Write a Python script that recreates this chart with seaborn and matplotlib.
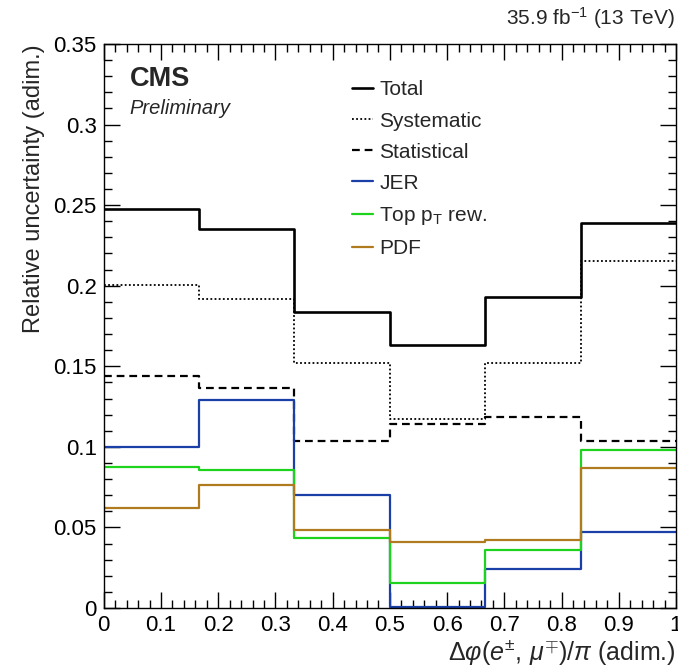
import numpy as np
import pandas as pd
import matplotlib
matplotlib.use("Agg")
import matplotlib.pyplot as plt
from matplotlib.ticker import MultipleLocator
from matplotlib.lines import Line2D
import seaborn as sns

# ---- data ----
bin_edges = [0.0, 1/6, 2/6, 3/6, 4/6, 5/6, 1.0]
total = [0.2475, 0.2350, 0.1840, 0.1635, 0.1930, 0.2390]
systematic = [0.2005, 0.1915, 0.1520, 0.1175, 0.1520, 0.2155]
statistical = [0.1440, 0.1365, 0.1035, 0.1140, 0.1185, 0.1035]
jer = [0.0997, 0.1292, 0.0700, 0.0008, 0.0240, 0.0475]
top_pt = [0.0875, 0.0857, 0.0433, 0.0153, 0.0358, 0.0980]
pdf = [0.0620, 0.0762, 0.0483, 0.0408, 0.0425, 0.0866]
labels = ["Total", "Systematic", "Statistical", "JER", r"Top p$_\mathregular{T}$ rew.", "PDF"]

sns.set_theme(style="ticks")
plt.rcParams["font.family"] = ["Liberation Sans", "DejaVu Sans"]
plt.rcParams["mathtext.fontset"] = "custom"
plt.rcParams["mathtext.rm"] = "Liberation Sans"
plt.rcParams["mathtext.it"] = "Liberation Sans:italic"
plt.rcParams["mathtext.bf"] = "Liberation Sans:bold"

fig = plt.figure(figsize=(6.78, 6.66), dpi=100)
ax = fig.add_axes([0.153, 0.087, 0.844, 0.847])

series = [total, systematic, statistical, jer, top_pt, pdf]
colors = ["black", "black", "black", "#1a3fa6", "#1ed31e", "#b07a1e"]
lws = [1.9, 1.3, 1.6, 1.6, 1.6, 1.6]
styles = ["-", (0, (1, 1.3)), (0, (3.5, 2.2)), "-", "-", "-"]

for vals, c, lw, ls in zip(series, colors, lws, styles):
    df = pd.DataFrame({"x": bin_edges, "y": list(vals) + [vals[-1]]})
    sns.lineplot(data=df, x="x", y="y", drawstyle="steps-post", color=c,
                 linewidth=lw, linestyle=ls, ax=ax, estimator=None)

ax.set_xlim(0, 1)
ax.set_ylim(0, 0.35)
ax.xaxis.set_major_locator(MultipleLocator(0.1))
ax.xaxis.set_minor_locator(MultipleLocator(0.02))
ax.yaxis.set_major_locator(MultipleLocator(0.05))
ax.yaxis.set_minor_locator(MultipleLocator(0.01))
ax.set_xticks(np.round(np.arange(0, 1.01, 0.1), 1))
ax.set_xticklabels(["0", "0.1", "0.2", "0.3", "0.4", "0.5", "0.6", "0.7", "0.8", "0.9", "1"])
ax.set_yticks(np.round(np.arange(0, 0.351, 0.05), 2))
ax.set_yticklabels(["0", "0.05", "0.1", "0.15", "0.2", "0.25", "0.3", "0.35"])
ax.tick_params(which="both", direction="in", top=True, right=True, labelsize=16,
               colors="black", width=1.0)
ax.tick_params(which="major", length=11.5, pad=5)
ax.tick_params(which="minor", length=5.8)
for s in ax.spines.values():
    s.set_linewidth(1.0)
    s.set_color("black")

ax.set_xlabel(r"$\Delta\varphi(e^{\pm},\,\mu^{\mp})/\pi$ (adim.)", fontsize=18,
              loc="right", labelpad=1)
ax.set_ylabel("Relative uncertainty (adim.)", fontsize=17, loc="top", labelpad=6)

ax.text(0.045, 0.938, "CMS", transform=ax.transAxes, fontsize=19.5, fontweight="bold",
        va="center", ha="left")
ax.text(0.045, 0.885, "Preliminary", transform=ax.transAxes, fontsize=14.5,
        style="italic", va="center", ha="left")
fig.text(0.996, 0.973, r"35.9 fb$^\mathregular{-1}$ (13 TeV)", fontsize=15,
         ha="right", va="center")

handles = [Line2D([0], [0], color=c, lw=lw, ls=ls) for c, lw, ls in zip(colors, lws, styles)]
leg = ax.legend(handles, labels, loc="upper left", bbox_to_anchor=(0.42, 0.95),
                frameon=False, fontsize=15, handlelength=1.0, handletextpad=0.3,
                labelspacing=0.58, borderaxespad=0)

fig.savefig("out.png", dpi=100)
